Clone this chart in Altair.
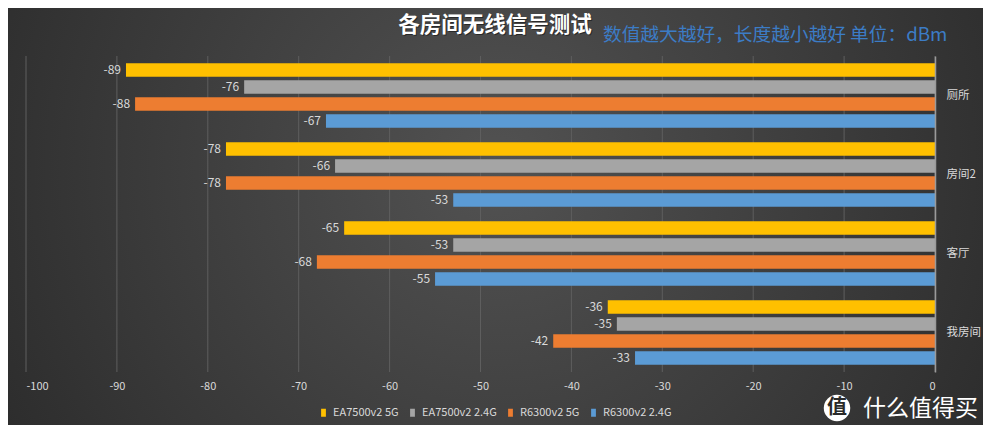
import altair as alt
import pandas as pd

rooms = ["厕所", "房间2", "客厅", "我房间"]
series = ["EA7500v2 5G", "EA7500v2 2.4G", "R6300v2 5G", "R6300v2 2.4G"]
colors = ["#ffc000", "#a5a5a5", "#ed7d31", "#5b9bd5"]
ea7500_5g = [-89, -78, -65, -36]
ea7500_24g = [-76, -66, -53, -35]
r6300_5g = [-88, -78, -68, -42]
r6300_24g = [-67, -53, -55, -33]
x_ticks = list(range(-100, 1, 10))

title_text = "各房间无线信号测试"
note_text = "数值越大越好，长度越小越好 单位：dBm"
brand_text = "什么值得买"

rows = []
for s, vals in zip(series, [ea7500_5g, ea7500_24g, r6300_5g, r6300_24g]):
    for r, v in zip(rooms, vals):
        rows.append({"room": r, "series": s, "value": v, "label": str(v)})
df = pd.DataFrame(rows)
ticks_df = pd.DataFrame({"tick": x_ticks})

FONT = "Noto Sans CJK SC"
W, H = 909, 316
PAD = {"left": 18, "top": 48, "right": 48, "bottom": 53}
TOTAL_W = W + PAD["left"] + PAD["right"]
TOTAL_H = H + PAD["top"] + PAD["bottom"]

one = pd.DataFrame({"k": [0]})

bg_gradient = {
    "gradient": "radial",
    "x1": 0.5, "y1": 0.45, "r1": 0.0,
    "x2": 0.5, "y2": 0.45, "r2": 0.72,
    "stops": [
        {"offset": 0.0, "color": "#525252"},
        {"offset": 1.0, "color": "#232323"},
    ],
}
bg = alt.Chart(one).mark_rect(fill=bg_gradient, strokeWidth=0).encode(
    x=alt.value(-PAD["left"]),
    x2=alt.value(TOTAL_W - PAD["left"]),
    y=alt.value(-PAD["top"]),
    y2=alt.value(TOTAL_H - PAD["top"]),
)

x_scale = alt.Scale(domain=[-100, 0], nice=False)
x_enc = alt.X(
    "value:Q",
    scale=x_scale,
    axis=alt.Axis(
        values=x_ticks, grid=False, domain=False, ticks=False,
        labelColor="#d9d9d9", labelFontSize=11, labelPadding=8, title=None,
        labelFont=FONT, zindex=1,
        labelExpr="replace(datum.label, '\u2212', '-')",
    ),
)
y_enc = alt.Y(
    "room:N", sort=rooms,
    scale=alt.Scale(paddingInner=0.14, paddingOuter=0.07),
    axis=alt.Axis(
        orient="right", title=None, ticks=False, domainColor="#9a9a9a",
        domainWidth=1.5, labelColor="#d9d9d9", labelFontSize=11.5,
        labelPadding=11, labelFont=FONT, grid=False, zindex=1,
    ),
)
yoff_enc = alt.YOffset(
    "series:N", sort=series,
    scale=alt.Scale(paddingInner=0.2, paddingOuter=0.1),
)

grid = alt.Chart(ticks_df).mark_rule(color="#5e5e5e", strokeWidth=1).encode(
    x=alt.X("tick:Q", scale=x_scale),
    y=alt.value(0),
    y2=alt.value(H),
)

base = alt.Chart(df)
bars = base.mark_bar().encode(
    x=x_enc,
    y=y_enc,
    yOffset=yoff_enc,
    color=alt.Color(
        "series:N", sort=series,
        scale=alt.Scale(domain=series, range=colors),
        legend=alt.Legend(
            title=None, orient="none", direction="horizontal",
            legendX=292, legendY=351,
            symbolType="M-0.6,-1L0.6,-1L0.6,1L-0.6,1Z", symbolSize=64,
            symbolStrokeWidth=0, labelColor="#d9d9d9", labelFontSize=11,
            labelFont=FONT, columnPadding=8, labelOffset=4,
        ),
    ),
)
labels = base.mark_text(
    align="right", baseline="middle", dx=-5, color="#d9d9d9",
    fontSize=12, font=FONT,
).encode(x=x_enc, y=y_enc, yOffset=yoff_enc, text="label:N")

title_shadow = alt.Chart(one).mark_text(
    align="center", baseline="middle", fontSize=21.5, fontWeight="bold",
    font=FONT, color="#151515", opacity=0.6, text=title_text,
).encode(x=alt.value(470), y=alt.value(-29))
title = alt.Chart(one).mark_text(
    align="center", baseline="middle", fontSize=21.5, fontWeight="bold",
    font=FONT, color="white", text=title_text,
).encode(x=alt.value(469), y=alt.value(-30))

note = alt.Chart(one).mark_text(
    align="left", baseline="middle", fontSize=18.7, font=FONT, color="#3c7cc6",
    text=note_text,
).encode(x=alt.value(577), y=alt.value(-21))

logo_circle = alt.Chart(one).mark_circle(color="white", opacity=1, size=700).encode(
    x=alt.value(811), y=alt.value(352)
)
logo_char = alt.Chart(one).mark_text(
    text="值", fontSize=20, fontWeight="bold", font=FONT, color="#2a2a2a",
    align="center", baseline="middle",
).encode(x=alt.value(811), y=alt.value(352))
brand = alt.Chart(one).mark_text(
    text=brand_text, fontSize=23, font=FONT, color="white",
    align="left", baseline="middle",
).encode(x=alt.value(837), y=alt.value(353))

chart = alt.layer(
    bg, grid, bars, labels, title_shadow, title, note, logo_circle, logo_char, brand
).properties(
    width=W, height=H,
    padding=PAD,
    autosize=alt.AutoSizeParams(type="none"),
    background="#2a2a2a",
).configure_view(stroke=None)

chart.save("out.html", embed_options={"renderer": "svg", "actions": False})
